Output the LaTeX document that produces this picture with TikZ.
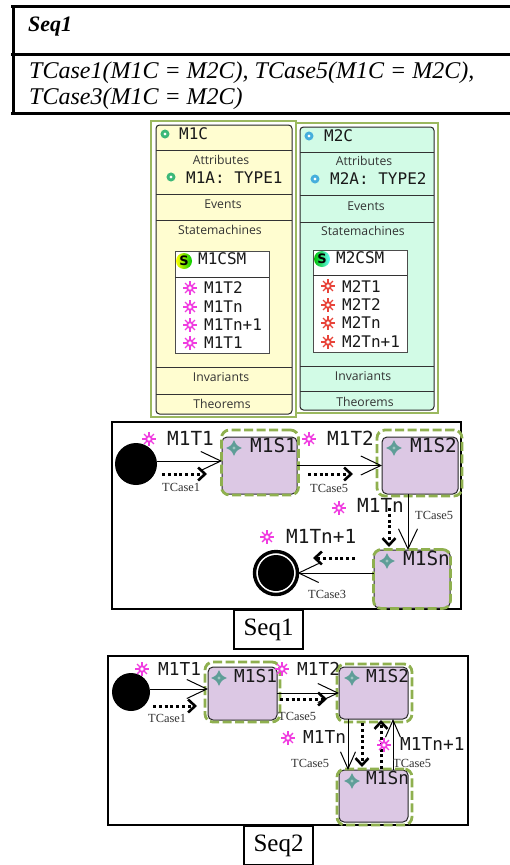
\documentclass[tikz,border=0pt]{standalone}
\usepackage{fontspec}
\setmainfont{Liberation Serif}
\newfontfamily\monof{DejaVu Sans Mono}
\newfontfamily\uif{Open Sans}
\newfontfamily\sif{DejaVu Sans}
\usetikzlibrary{arrows.meta}
\definecolor{gborder}{HTML}{9BB85F}
\definecolor{gdash}{HTML}{8FB04F}
\definecolor{yfill}{HTML}{FFFDD0}
\definecolor{tfill}{HTML}{D2FBE6}
\definecolor{sfill}{HTML}{DCC8E4}
\definecolor{sunpink}{HTML}{F03CE0}
\definecolor{sunred}{HTML}{E8443A}
\definecolor{ringg}{HTML}{3CB878}
\definecolor{ringb}{HTML}{45AEDC}
\definecolor{teal1}{HTML}{5F9E98}
\tikzset{
  x=1pt,y=-1pt,
  tablerule/.style={line width=3pt,black},
  panelglow/.style={draw=gborder,line width=2.5pt,fill=white,inner sep=0,outer sep=0},
  panelbox/.style={draw=black!85,line width=1pt,rounded corners=3.5pt,inner sep=0,outer sep=0},
  divider/.style={draw=black!80,line width=.9pt},
  smbox/.style={draw=black!70,line width=1pt,fill=white,inner sep=0,outer sep=0},
  frameb/.style={draw=black,line width=2pt,fill=white,inner sep=0,outer sep=0},
  greendash/.style={draw=gdash,line width=2.8pt,dash pattern=on 9pt off 3.5pt,rounded corners=8pt,inner sep=0,outer sep=0},
  statebox/.style={draw=black!85,line width=1pt,fill=sfill,rounded corners=5pt,inner sep=0,outer sep=0},
  solidarr/.style={draw=black,line width=1pt,-{Straight Barb[length=20pt,width=19pt,line width=1pt]}},
  solidarrb/.style={draw=black,line width=1pt,-{Straight Barb[length=17pt,width=15pt,line width=1pt]}},
  dotarr/.style={draw=black,line width=3pt,dash pattern=on 3pt off 2.8pt,-{Straight Barb[length=7pt,width=13pt,line width=2.6pt]}},
  mono/.style={font=\monof\fontsize{16}{18}\selectfont,anchor=base west,inner sep=0,text=black!90},
  monob/.style={font=\monof\fontsize{19.4}{20}\selectfont,anchor=base west,inner sep=0,text=black!90},
  monoc/.style={font=\monof\fontsize{17.8}{20}\selectfont,anchor=base west,inner sep=0,text=black!90},
  uilabel/.style={font=\uif\fontsize{12.2}{14}\selectfont,anchor=base,inner sep=0,text=black!80},
  tc/.style={font=\fontsize{12.4}{14}\selectfont,anchor=base west,inner sep=0,text=black!80},
  tabletext/.style={font=\itshape\fontsize{24}{26}\selectfont,anchor=base west,inner sep=0},
  seqbox/.style={draw=black,line width=1.5pt,fill=white,font=\fontsize{25}{28}\selectfont,inner sep=0,outer sep=0},
  pics/sunicon/.style={code={
    \foreach \a in {0,45,...,315}{\draw[#1,line width=1.4pt] (0,0) -- (\a:7);}
    \draw[#1,line width=1.9pt,fill=white] (0,0) circle[radius=2.8];
  }},
  pics/ringicon/.style={code={
    \draw[#1,line width=2.8pt,fill=white] (0,0) circle[radius=3];
  }},
  pics/staricon/.style={code={
    \fill[teal1] (8,0) .. controls (2.5,2.5) .. (0,8) .. controls (-2.5,2.5) .. (-8,0) .. controls (-2.5,-2.5) .. (0,-8) .. controls (2.5,-2.5) .. cycle;
    \fill[teal1!60!white] (0,0) circle[radius=1.6];
  }},
}
\begin{document}
\begin{tikzpicture}
\useasboundingbox (0,0) rectangle (510,865);
\fill[white] (0,0) rectangle (510,865);

% table
\draw[tablerule] (11,6) -- (510,6);
\draw[tablerule] (11,54) -- (510,54);
\draw[tablerule] (11,113) -- (510,113);
\draw[tablerule] (13,5) -- (13,115);
\node[tabletext,font=\bfseries\itshape\fontsize{22}{24}\selectfont] (h1) at (28,31) {Seq1};
\node[tabletext] (h2) at (29,78) {TCase1(M1C = M2C), TCase5(M1C = M2C),};
\node[tabletext] (h3) at (29,104) {TCase3(M1C = M2C)};

% panels
\node[panelglow,minimum width=145pt,minimum height=296pt] (g1) at (223.5,269) {};
\node[panelglow,minimum width=142pt,minimum height=290pt] (g2) at (367,268) {};
\node[panelbox,fill=yfill,minimum width=136pt,minimum height=289pt] (m1) at (224,269.5) {};
\node[panelbox,fill=tfill,minimum width=134pt,minimum height=283pt] (m2) at (367,268.5) {};
\foreach \yy in {150,194,220,367,394}{\draw[divider] (m1.west |- 0,\yy) -- (m1.east |- 0,\yy);}
\foreach \yy in {152,195,222,366,391}{\draw[divider] (m2.west |- 0,\yy) -- (m2.east |- 0,\yy);}
\node[smbox,minimum width=94pt,minimum height=102pt] (c1) at (222,302) {};
\node[smbox,minimum width=94pt,minimum height=102pt] (c2) at (360,301) {};
\draw[divider] (c1.west |- 0,277) -- (c1.east |- 0,277);
\draw[divider] (c2.west |- 0,275) -- (c2.east |- 0,275);

\pic at (165,134) {ringicon=ringg};
\pic at (309,136) {ringicon=ringb};
\node[mono] (t1) at (179,139) {M1C};
\node[mono] (t2) at (324,141) {M2C};
\node[uilabel] (a1l) at (221,164) {Attributes};
\node[uilabel] (a2l) at (364,165) {Attributes};
\pic at (171,177) {ringicon=ringg};
\pic at (315,179) {ringicon=ringb};
\node[mono] (a1t) at (186,183) {M1A: TYPE1};
\node[mono] (a2t) at (330,184) {M2A: TYPE2};
\node[uilabel] (e1) at (223,208) {Events};
\node[uilabel] (e2) at (366,210) {Events};
\node[uilabel] (sm1) at (220,234) {Statemachines};
\node[uilabel] (sm2) at (363,235) {Statemachines};
\node[uilabel] (i1l) at (221,381) {Invariants};
\node[uilabel] (i2l) at (363,380) {Invariants};
\node[uilabel] (th1) at (222,408) {Theorems};
\node[uilabel] (th2) at (365,406) {Theorems};

\shade[left color=yellow,right color=green!80!black] (184,261) circle[radius=8];
\shade[left color=green!75!black,right color=cyan!60!white] (322,259) circle[radius=8];
\node[font=\sif\bfseries\fontsize{13}{14}\selectfont,inner sep=0,text=black] (s1ic) at (184,261) {S};
\node[font=\sif\bfseries\fontsize{13}{14}\selectfont,inner sep=0,text=black] (s2ic) at (322,259) {S};
\node[mono] (c1t) at (198,264) {M1CSM};
\node[mono] (c2t) at (336,263) {M2CSM};

\pic at (190,288) {sunicon=sunpink};
\pic at (190,307) {sunicon=sunpink};
\pic at (190,325) {sunicon=sunpink};
\pic at (190,343) {sunicon=sunpink};
\node[mono] (l1) at (204,293) {M1T2};
\node[mono] (l2) at (204,312) {M1Tn};
\node[mono] (l3) at (204,330) {M1Tn+1};
\node[mono] (l4) at (204,348) {M1T1};
\pic at (328,286) {sunicon=sunred};
\pic at (328,305) {sunicon=sunred};
\pic at (328,323) {sunicon=sunred};
\pic at (328,342) {sunicon=sunred};
\node[mono] (r1) at (342,292) {M2T1};
\node[mono] (r2) at (342,310) {M2T2};
\node[mono] (r3) at (342,328) {M2Tn};
\node[mono] (r4) at (342,347) {M2Tn+1};

% Seq1 diagram
\node[frameb,minimum width=349pt,minimum height=187pt] (f1) at (286.5,515.5) {};
\node[seqbox,minimum width=69pt,minimum height=39pt] (sq1) at (268.5,629.5) {Seq1};
\node[circle,fill=black,minimum size=42pt,inner sep=0,outer sep=0] (i1) at (136,464) {};
\node[circle,draw=black,line width=3.4pt,fill=white,minimum size=43pt,inner sep=0,outer sep=0] (fin) at (276,573) {};
\node[circle,fill=black,minimum size=36pt,inner sep=0] (finc) at (276,573) {};

\node[statebox,minimum width=75pt,minimum height=57pt] (a1) at (259.5,465.5) {};
\node[statebox,minimum width=76pt,minimum height=57pt] (a2) at (420,465.5) {};
\node[statebox,minimum width=76pt,minimum height=58pt] (a3) at (412,579) {};
\node[greendash,minimum width=77pt,minimum height=65pt] (a1o) at (260,462.5) {};
\node[greendash,minimum width=85pt,minimum height=66pt] (a2o) at (419.5,463) {};
\node[greendash,minimum width=77pt,minimum height=59pt] (a3o) at (412,579) {};

\coordinate (gx1) at (408,0);
\draw[solidarr] ([yshift=3pt]i1.east) -- ([yshift=3pt]i1.east -| a1.west);
\draw[solidarr] (a1.east) -- (a2.west);
\draw[solidarr] (gx1 |- a2.south) -- (gx1 |- a3.north);
\draw[solidarr] (a3.west |- fin) -- (fin.east);

\coordinate (d1a) at (162,474);
\coordinate (d1b) at (207,474);
\coordinate (d2a) at (308,474);
\coordinate (d2b) at (353,474);
\coordinate (d3a) at (389,508);
\coordinate (d3b) at (389,547);
\coordinate (d4a) at (355,558);
\coordinate (d4b) at (313,558);
\draw[dotarr] (d1a) -- (d1b);
\draw[dotarr] (d2a) -- (d2b);
\draw[dotarr] (d3a) -- (d3b);
\draw[dotarr] (d4a) -- (d4b);

\pic at (149,439) {sunicon=sunpink};
\pic at (309,439) {sunicon=sunpink};
\pic at (339,508) {sunicon=sunpink};
\pic at (267,537) {sunicon=sunpink};
\pic at (234,448) {staricon};
\pic at (394,448) {staricon};
\pic at (387,561) {staricon};
\node[monob] (x1) at (167,445) {M1T1};
\node[monob] (x2) at (327,445) {M1T2};
\node[monob] (x3) at (357,512) {M1Tn};
\node[monob] (x4) at (286,543) {M1Tn+1};
\node[monob] (x5) at (250,452) {M1S1};
\node[monob] (x6) at (410,452) {M1S2};
\node[monob] (x7) at (403,565) {M1Sn};
\node[tc] (y1) at (162,491) {TCase1};
\node[tc] (y2) at (310,492) {TCase5};
\node[tc] (y3) at (415,519) {TCase5};
\node[tc] (y4) at (308,598) {TCase3};

% Seq2 diagram
\node[frameb,minimum width=360pt,minimum height=169pt] (f2) at (288,740.5) {};
\node[seqbox,minimum width=69pt,minimum height=39pt] (sq2) at (278.5,845.5) {Seq2};
\node[circle,fill=black,minimum size=38pt,inner sep=0,outer sep=0] (i2) at (131,692) {};

\node[statebox,minimum width=69pt,minimum height=53pt] (b1) at (242.5,693.5) {};
\node[statebox,minimum width=69pt,minimum height=52pt] (b2) at (373.5,693) {};
\node[statebox,minimum width=69pt,minimum height=52pt] (b3) at (373.5,796) {};
\node[greendash,minimum width=75pt,minimum height=60pt] (b1o) at (242.5,692) {};
\node[greendash,minimum width=75pt,minimum height=58pt] (b2o) at (374.5,693) {};
\node[greendash,minimum width=75pt,minimum height=56pt] (b3o) at (374.5,797) {};

\coordinate (gx2) at (348,0);
\coordinate (gx3) at (393,0);
\draw[solidarr] ([yshift=3pt]i2.east) -- ([yshift=3pt]i2.east -| b1.west);
\draw[solidarr] (b1.east |- 0,693) -- (b2.west |- 0,693);
\draw[solidarrb] (gx2 |- b2.south) -- (gx2 |- b3.north);
\draw[solidarrb] (gx3 |- b3.north) -- (gx3 |- b2.south);

\coordinate (e1a) at (153,706);
\coordinate (e1b) at (197,706);
\coordinate (e2a) at (280,699);
\coordinate (e2b) at (327,699);
\coordinate (e3a) at (362,723);
\coordinate (e3b) at (362,767);
\coordinate (e4a) at (381,769);
\coordinate (e4b) at (381,720);
\draw[dotarr] (e1a) -- (e1b);
\draw[dotarr] (e2a) -- (e2b);
\draw[dotarr] (e3a) -- (e3b);
\draw[dotarr] (e4a) -- (e4b);

\pic at (142,669) {sunicon=sunpink};
\pic at (282,669) {sunicon=sunpink};
\pic at (288,738) {sunicon=sunpink};
\pic at (384,745) {sunicon=sunpink};
\pic at (219,678) {staricon};
\pic at (352,678) {staricon};
\pic at (352,781) {staricon};
\node[monoc] (z1) at (158,675) {M1T1};
\node[monoc] (z2) at (297,675) {M1T2};
\node[monoc] (z3) at (303,743) {M1Tn};
\node[monoc] (z4) at (400,750) {M1Tn+1};
\node[monoc] (z5) at (234,682) {M1S1};
\node[monoc] (z6) at (366,682) {M1S2};
\node[monoc] (z7) at (366,784) {M1Sn};
\node[tc] (w1) at (148,722) {TCase1};
\node[tc] (w2) at (278,720) {TCase5};
\node[tc] (w3) at (291,767) {TCase5};
\node[tc] (w4) at (393,767) {TCase5};
\end{tikzpicture}
\end{document}
